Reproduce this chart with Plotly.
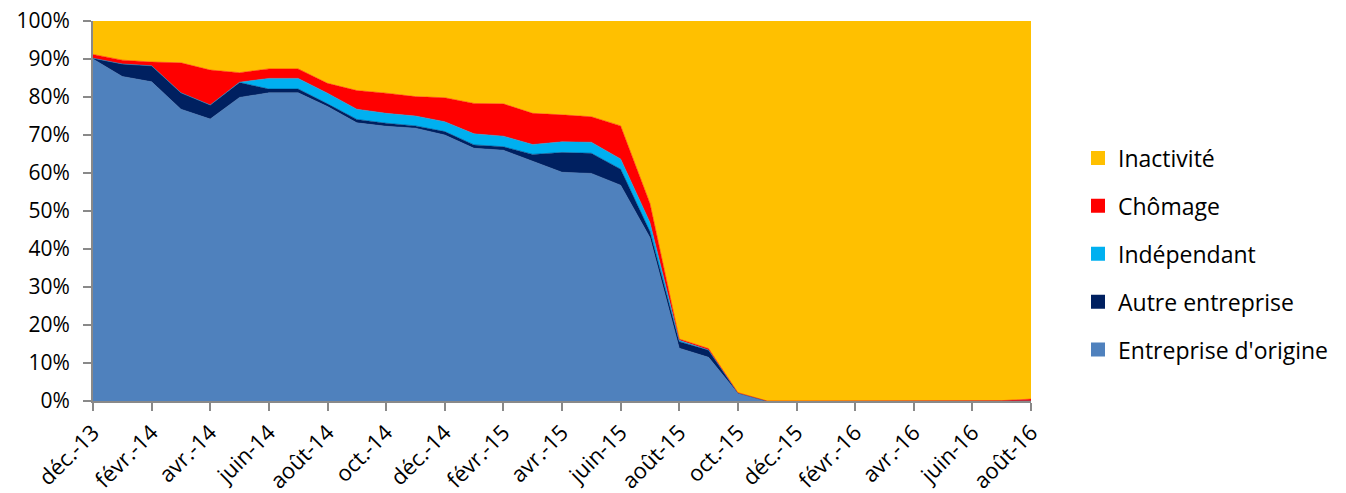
import plotly.graph_objects as go

months = [
    "déc.-13", "janv.-14", "févr.-14", "mars-14", "avr.-14", "mai-14", "juin-14",
    "juil.-14", "août-14", "sept.-14", "oct.-14", "nov.-14", "déc.-14", "janv.-15",
    "févr.-15", "mars-15", "avr.-15", "mai-15", "juin-15", "juil.-15", "août-15",
    "sept.-15", "oct.-15", "nov.-15", "déc.-15", "janv.-16", "févr.-16", "mars-16",
    "avr.-16", "mai-16", "juin-16", "juil.-16", "août-16",
]

entreprise_origine = [
    90.0, 85.4, 84.0, 76.8, 74.2, 79.9, 81.1, 81.1, 77.5, 73.2, 72.3, 71.8, 70.0,
    66.5, 66.0, 63.0, 60.2, 59.9, 56.8, 43.0, 13.9, 11.5, 2.0, 0, 0, 0, 0, 0, 0,
    0, 0, 0, 0,
]
autre_entreprise = [
    0.2, 3.3, 4.2, 4.3, 3.7, 3.9, 1.0, 1.0, 0.7, 0.9, 0.8, 0.6, 0.9, 0.9, 0.9,
    1.9, 5.2, 5.3, 4.2, 1.6, 1.7, 1.9, 0.1, 0, 0, 0, 0, 0, 0, 0, 0, 0, 0,
]
independant = [
    0, 0, 0, 0, 0, 0.1, 2.8, 2.8, 2.8, 2.7, 2.6, 2.6, 2.6, 2.9, 2.8, 2.6, 2.8,
    2.9, 2.7, 2.4, 0.4, 0, 0, 0, 0, 0, 0, 0, 0, 0, 0, 0, 0,
]
chomage = [
    1.0, 1.0, 1.0, 7.9, 9.2, 2.5, 2.5, 2.5, 2.6, 4.9, 5.3, 5.1, 6.3, 8.0, 8.5,
    8.2, 7.1, 6.7, 8.7, 5.0, 0.3, 0.4, 0.1, 0, 0, 0, 0, 0, 0, 0, 0, 0.1, 0.5,
]
inactivite = [
    8.8, 10.3, 10.8, 11.0, 12.9, 13.6, 12.6, 12.6, 16.4, 18.3, 19.0, 19.9, 20.2,
    21.7, 21.8, 24.3, 24.7, 25.2, 27.6, 48.0, 83.7, 86.2, 97.8, 100, 100, 100,
    100, 100, 100, 100, 100, 99.9, 99.5,
]

# bottom of the stack first
series = [
    ("Entreprise d'origine", entreprise_origine, "#4F81BD"),
    ("Autre entreprise", autre_entreprise, "#002060"),
    ("Indépendant", independant, "#00B0F0"),
    ("Chômage", chomage, "#FF0000"),
    ("Inactivité", inactivite, "#FFC000"),
]

FONT = "Open Sans"
AXIS_GREY = "#898989"

# the page body adds an 8px margin, so the figure is sized to fit the window
W, H = 1338, 485

fig = go.Figure()
for name, values, color in series:
    fig.add_trace(
        go.Scatter(
            x=months,
            y=values,
            stackgroup="one",
            mode="lines",
            line=dict(width=0.5, color=color),
            fillcolor=color,
            name=name,
            showlegend=False,
            hoverinfo="skip",
        )
    )

# square legend swatches, top of the stack listed first (Excel style)
for name, values, color in reversed(series):
    fig.add_trace(
        go.Scatter(
            x=[None],
            y=[None],
            mode="markers",
            marker=dict(symbol="square", size=14, color=color),
            name=name,
            legendgroup=name,
        )
    )

fig.update_layout(
    width=W,
    height=H,
    margin=dict(l=85, r=315, t=13, b=92),
    paper_bgcolor="white",
    plot_bgcolor="white",
    font=dict(family=FONT, size=21, color="#000000"),
    legend=dict(
        xref="container",
        yref="container",
        x=1070 / W,
        y=1 - 246 / H,
        xanchor="left",
        yanchor="middle",
        traceorder="grouped",
        tracegroupgap=15,
        font=dict(family=FONT, size=23),
        itemwidth=30,
        maxheight=1,
    ),
    xaxis=dict(
        type="category",
        range=[0, len(months) - 1],
        tickmode="array",
        tickvals=months[::2],
        ticktext=months[::2],
        tickangle=-45,
        tickfont=dict(size=22),
        ticks="outside",
        ticklen=8,
        tickwidth=2,
        tickcolor=AXIS_GREY,
        showline=True,
        linecolor=AXIS_GREY,
        linewidth=2,
        showgrid=False,
        zeroline=False,
        automargin=False,
    ),
    yaxis=dict(
        range=[0, 100],
        dtick=10,
        ticksuffix="%",
        tickfont=dict(size=21),
        ticklabelstandoff=9,
        ticklabeloverflow="allow",
        ticks="outside",
        ticklen=8,
        tickwidth=2,
        tickcolor=AXIS_GREY,
        showline=True,
        linecolor=AXIS_GREY,
        linewidth=2,
        showgrid=False,
        zeroline=False,
        automargin=False,
    ),
)

fig.write_html("out.html")
